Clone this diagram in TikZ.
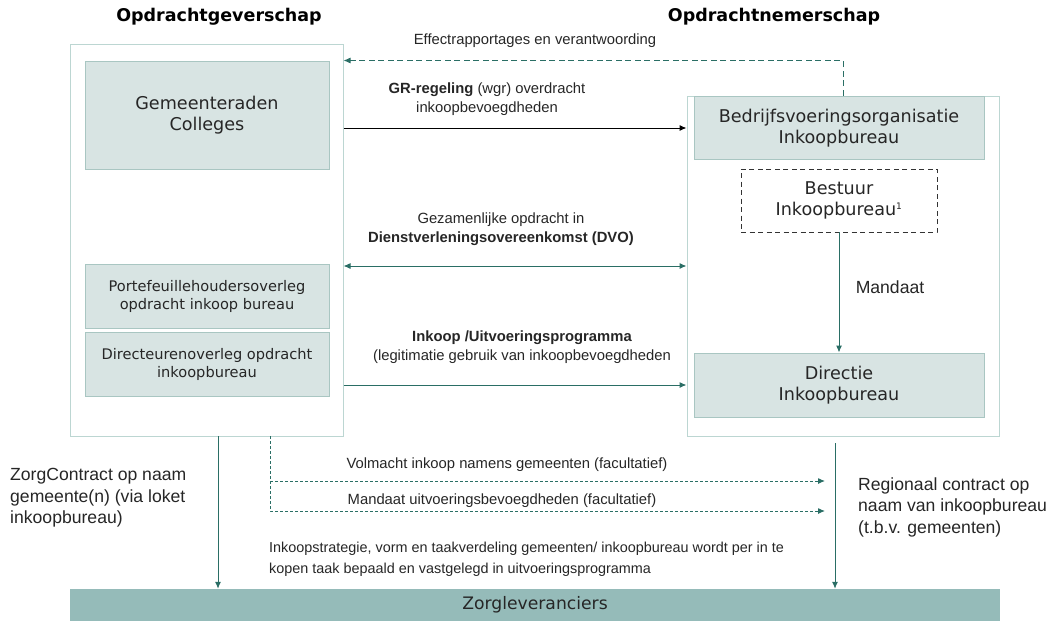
\documentclass[tikz,border=0pt]{standalone}
\usepackage{fontspec}
\setmainfont{Liberation Sans}
\newfontfamily\dv{DejaVu Sans}
\usetikzlibrary{arrows.meta,calc}
\definecolor{boxfill}{HTML}{D8E4E3}
\definecolor{boxline}{HTML}{A9C6C2}
\definecolor{outline}{HTML}{BCD6D2}
\definecolor{teal}{HTML}{2A6E65}
\definecolor{barfill}{HTML}{95BBB9}
\definecolor{txt}{HTML}{262626}
\tikzset{
  outerbox/.style={draw=outline, line width=1pt, fill=white, rectangle, inner sep=0pt},
  grbox/.style={draw=boxline, line width=1pt, fill=boxfill, rectangle, inner sep=0pt, align=center, text=txt, font=\dv\fontsize{17.6}{21}\selectfont},
  smbox/.style={grbox, font=\dv\fontsize{14.6}{18}\selectfont},
  dbox/.style={draw=black!80, dashed, dash pattern=on 5pt off 3.5pt, line width=0.9pt, fill=white, rectangle, inner sep=0pt, align=center, text=txt, font=\dv\fontsize{17.6}{21}\selectfont},
  title/.style={font=\dv\bfseries\fontsize{17.5}{21}\selectfont, text=black},
  lbl/.style={font=\fontsize{14.8}{18.5}\selectfont, align=center, text=txt, inner sep=0pt},
  biglbl/.style={font=\fontsize{17.6}{21.5}\selectfont, align=left, text=txt, inner sep=0pt},
  tip/.style={-{Latex[length=7pt,width=6pt]}},
  conn/.style={line width=1pt, draw=teal, tip},
}
\begin{document}
\begin{tikzpicture}[x=1pt,y=-1pt]
\useasboundingbox (0,0) rectangle (1053,621);
% outer boxes
\node[outerbox, minimum width=273, minimum height=392] (outerL) at (206.5,240) {};
\node[outerbox, minimum width=312, minimum height=340] (outerR) at (843,266) {};
% left inner boxes
\node[grbox, minimum width=244, minimum height=108] (gem) at (207,115) {Gemeenteraden\\Colleges};
\node[smbox, minimum width=244, minimum height=64] (port) at (207,296) {Portefeuillehoudersoverleg\\opdracht inkoop bureau};
\node[smbox, minimum width=244, minimum height=64] (dir) at (207,364) {Directeurenoverleg opdracht\\inkoopbureau};
% right inner boxes
\node[grbox, minimum width=290, minimum height=63] (bvo) at (839,128) {Bedrijfsvoeringsorganisatie\\Inkoopbureau};
\node[dbox, minimum width=196, minimum height=63] (bestuur) at (839,200.5) {Bestuur\\Inkoopbureau\textsuperscript{\fontsize{9}{9}\selectfont 1}};
\node[grbox, minimum width=290, minimum height=64] (directie) at (839,385) {Directie\\Inkoopbureau};
% bottom bar
\node[rectangle, fill=barfill, minimum width=930, minimum height=32, inner sep=0pt, font=\dv\fontsize{17.2}{20}\selectfont, text=txt] (bar) at (535,605) {Zorgleveranciers};
% titles
\node[title] (t1) at (219,17) {Opdrachtgeverschap};
\node[title] (t2) at (774,17) {Opdrachtnemerschap};
% connectors
\draw[conn, dashed, dash pattern=on 6pt off 3.5pt] (outerR.north) |- (gem.north -| outerL.east);
\node[lbl] (leff) at (535,41) {Effectrapportages en verantwoording};
\draw[conn, draw=black] (outerL.east |- bvo) -- (outerR.west |- bvo);
\node[lbl] (lgr) at (487,99) {\textbf{GR-regeling} (wgr) overdracht\\inkoopbevoegdheden};
\draw[conn, {Latex[length=7pt,width=6pt]}-{Latex[length=7pt,width=6pt]}] (outerL.east |- outerR.center) -- (outerR.west);
\node[lbl] (ldvo) at (501,229) {Gezamenlijke opdracht in\\\textbf{Dienstverleningsovereenkomst (DVO)}};
\draw[conn] (outerL.east |- directie) -- (outerR.west |- directie);
\node[lbl] (link) at (522,347) {\textbf{Inkoop /Uitvoeringsprogramma}\\(legitimatie gebruik van inkoopbevoegdheden};
\draw[conn] (bestuur.south) -- (directie.north);
\node[font=\fontsize{17.6}{21}\selectfont, text=txt, inner sep=0pt] (lman) at (890,287) {Mandaat};
% bottom connectors
\coordinate (la) at (218,436);
\coordinate (da) at (270,436);
\coordinate (v1) at (825,481);
\coordinate (v2) at (825,511);
\coordinate (ra) at (835,443);
\draw[conn] (la) -- (la |- bar.north);
\draw[conn] (ra) -- (ra |- bar.north);
\draw[conn, dash pattern=on 3pt off 2pt] (da) |- (v1);
\draw[conn, dash pattern=on 3pt off 2pt] (da) |- (v2);
\node[lbl] (lvol) at (507,465) {Volmacht inkoop namens gemeenten (facultatief)};
\node[lbl] (lmu) at (502,501) {Mandaat uitvoeringsbevoegdheden (facultatief)};
\node[lbl, align=left, anchor=north west, font=\fontsize{14.4}{20.5}\selectfont] (lstrat) at (269,542) {Inkoopstrategie, vorm en taakverdeling gemeenten/ inkoopbureau wordt per in te\\kopen taak bepaald en vastgelegd in uitvoeringsprogramma};
\node[biglbl, anchor=west] (lzc) at (10,498) {ZorgContract op naam\\gemeente(n) (via loket\\inkoopbureau)};
\node[biglbl, anchor=west] (lreg) at (858,507) {Regionaal contract op\\naam van inkoopbureau\\(t.b.v. gemeenten)};
\end{tikzpicture}
\end{document}
